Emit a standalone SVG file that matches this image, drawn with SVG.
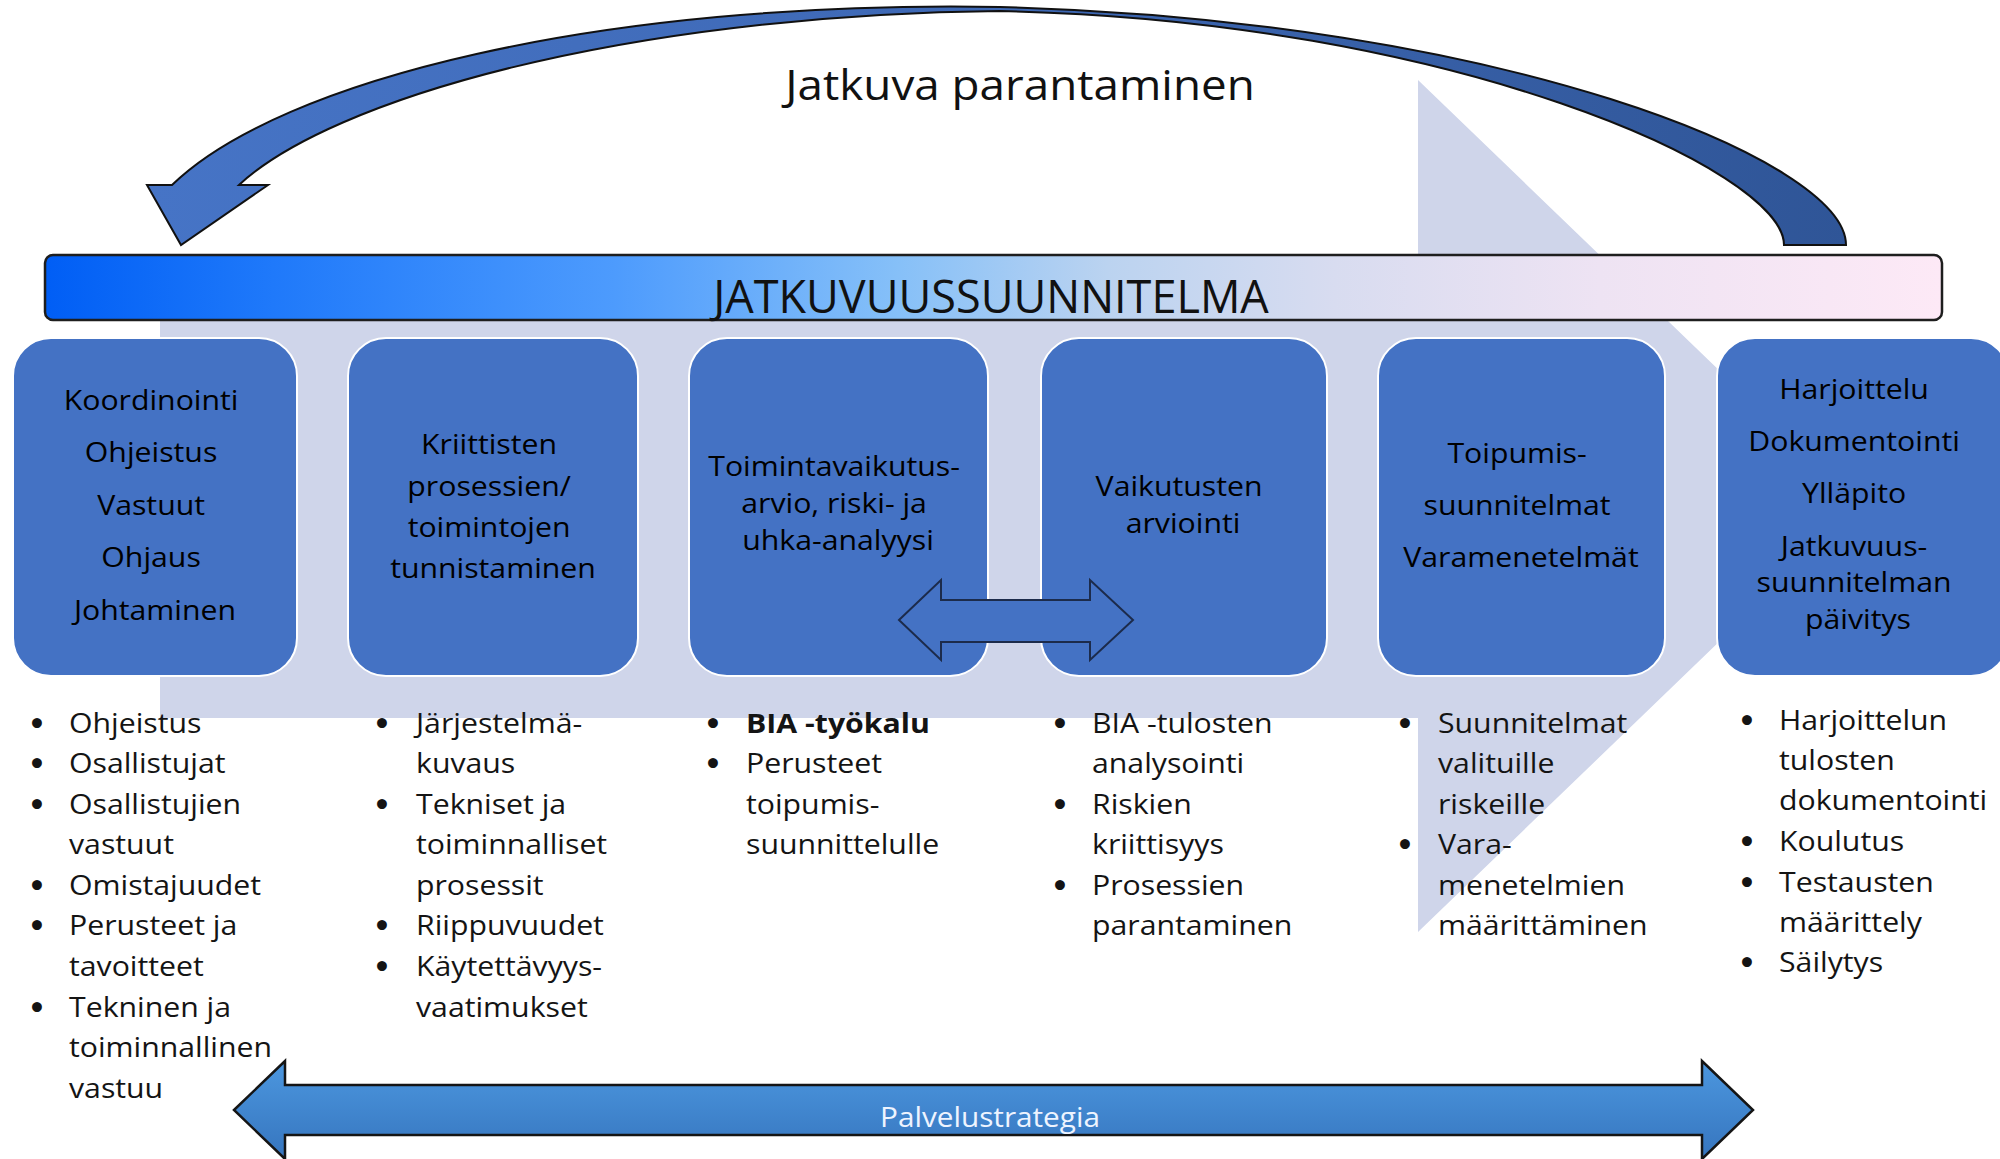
<svg xmlns="http://www.w3.org/2000/svg" width="2000" height="1159" viewBox="0 0 2000 1159">
  <defs>
    <linearGradient id="gBar" x1="0" y1="0" x2="1" y2="0">
      <stop offset="0" stop-color="#005EF5"/>
      <stop offset="0.12" stop-color="#1F79FA"/>
      <stop offset="0.3" stop-color="#4D9BFD"/>
      <stop offset="0.45" stop-color="#86C0F8"/>
      <stop offset="0.56" stop-color="#BBD3F0"/>
      <stop offset="0.68" stop-color="#D8DCF0"/>
      <stop offset="0.82" stop-color="#EEE3F3"/>
      <stop offset="1" stop-color="#FDE9F6"/>
    </linearGradient>
    <linearGradient id="gCurve" x1="150" y1="0" x2="1850" y2="0" gradientUnits="userSpaceOnUse">
      <stop offset="0" stop-color="#4674C6"/>
      <stop offset="0.5" stop-color="#3E68B4"/>
      <stop offset="1" stop-color="#2F5597"/>
    </linearGradient>
    <linearGradient id="gStrat" x1="0" y1="0" x2="0" y2="1">
      <stop offset="0" stop-color="#4C97DF"/>
      <stop offset="1" stop-color="#3675BE"/>
    </linearGradient>
    <style>
      .bg { fill: #CFD5EA; }
      .box { fill: #4472C4; stroke: #FFFFFF; stroke-width: 2; }
      .bt { font-family: "Open Sans", "Noto Sans", sans-serif; font-size: 27.5px; fill: #000000; text-anchor: middle; }
      .lt { font-family: "Open Sans", "Noto Sans", sans-serif; font-size: 27.5px; fill: #141414; }
      .bul { font-family: "DejaVu Sans", sans-serif; font-size: 28px; font-weight: bold; fill: #141414; text-anchor: middle; }
      .dbl { fill: #4472C4; stroke: #1C2B4B; stroke-width: 2; stroke-linejoin: miter; }
    </style>
  </defs>

  <!-- background chevron -->
  <polygon class="bg" points="160,300 1418,300 1418,80 1860,506 1418,932 1418,718 160,718"/>

  <g id="title">
    <text class="bt" transform="translate(1020 0) scale(1.09 1)" x="0" y="100" style="font-size:42px;fill:#111">Jatkuva parantaminen</text>
  </g>

  <g id="plan-bar">
    <rect x="45" y="255" width="1897" height="65" rx="8" fill="url(#gBar)" stroke="#1E1E1E" stroke-width="2.5"/>
    <text class="bt" x="991" y="313" style="font-size:45px;fill:#111">JATKUVUUSSUUNNITELMA</text>
  </g>

  <g id="box1">
    <rect class="box" x="13" y="338" width="284" height="338" rx="38"/>
    <text class="bt" transform="translate(155 0) scale(1.1 1)">
      <tspan x="0" y="410">Koordinointi</tspan>
      <tspan x="0" y="462">Ohjeistus</tspan>
      <tspan x="0" y="515">Vastuut</tspan>
      <tspan x="0" y="567">Ohjaus</tspan>
      <tspan x="0" y="620">Johtaminen</tspan>
    </text>
  </g>

  <g id="box2">
    <rect class="box" x="348" y="338" width="290" height="338" rx="38"/>
    <text class="bt" transform="translate(493 0) scale(1.1 1)">
      <tspan x="0" y="454">Kriittisten</tspan>
      <tspan x="0" y="496">prosessien/</tspan>
      <tspan x="0" y="537">toimintojen</tspan>
      <tspan x="0" y="578">tunnistaminen</tspan>
    </text>
  </g>

  <g id="box3">
    <rect class="box" x="689" y="338" width="299" height="338" rx="38"/>
    <text class="bt" transform="translate(838 0) scale(1.1 1)">
      <tspan x="0" y="476">Toimintavaikutus-</tspan>
      <tspan x="0" y="513">arvio, riski- ja</tspan>
      <tspan x="0" y="550">uhka-analyysi</tspan>
    </text>
  </g>

  <g id="box4">
    <rect class="box" x="1041" y="338" width="286" height="338" rx="38"/>
    <text class="bt" transform="translate(1183 0) scale(1.1 1)">
      <tspan x="0" y="496">Vaikutusten</tspan>
      <tspan x="0" y="533">arviointi</tspan>
    </text>
  </g>

  <g id="box5">
    <rect class="box" x="1378" y="338" width="287" height="338" rx="38"/>
    <text class="bt" transform="translate(1521 0) scale(1.1 1)">
      <tspan x="0" y="463">Toipumis-</tspan>
      <tspan x="0" y="515">suunnitelmat</tspan>
      <tspan x="0" y="567">Varamenetelmät</tspan>
    </text>
  </g>

  <g id="box6">
    <rect class="box" x="1717" y="338" width="292" height="338" rx="38"/>
    <text class="bt" transform="translate(1858 0) scale(1.1 1)">
      <tspan x="0" y="399">Harjoittelu</tspan>
      <tspan x="0" y="451">Dokumentointi</tspan>
      <tspan x="0" y="503">Ylläpito</tspan>
      <tspan x="0" y="556">Jatkuvuus-</tspan>
      <tspan x="0" y="592">suunnitelman</tspan>
      <tspan x="0" y="629">päivitys</tspan>
    </text>
  </g>

  <g id="connectors">
    <!-- Jatkuva parantaminen curved arrow -->
    <path d="M 1846,245 C 1846,160 1500,20 1000,7 C 600,0 280,80 172,185 L 147,185 L 181,245 L 268,185 L 239,185 C 330,100 620,15 1000,11 C 1450,20 1784,170 1784,245 Z" fill="url(#gCurve)" stroke="#111111" stroke-width="2" stroke-linejoin="miter"/>
    <!-- double arrow between analysis boxes -->
    <path class="dbl" d="M 899,620 L 941,580 L 941,600 L 1090,600 L 1090,580 L 1133,620 L 1090,660 L 1090,642 L 941,642 L 941,660 Z"/>
  </g>

  <g id="list1">
    <text class="bul"><tspan x="37" y="734">•</tspan><tspan x="37" y="774">•</tspan><tspan x="37" y="815">•</tspan><tspan x="37" y="896">•</tspan><tspan x="37" y="936">•</tspan><tspan x="37" y="1018">•</tspan></text>
    <text class="lt" transform="translate(69 0) scale(1.1 1)">
      <tspan x="0" y="733">Ohjeistus</tspan>
      <tspan x="0" y="773">Osallistujat</tspan>
      <tspan x="0" y="814">Osallistujien</tspan>
      <tspan x="0" y="854">vastuut</tspan>
      <tspan x="0" y="895">Omistajuudet</tspan>
      <tspan x="0" y="935">Perusteet ja</tspan>
      <tspan x="0" y="976">tavoitteet</tspan>
      <tspan x="0" y="1017">Tekninen ja</tspan>
      <tspan x="0" y="1057">toiminnallinen</tspan>
      <tspan x="0" y="1098">vastuu</tspan>
    </text>
  </g>

  <g id="list2">
    <text class="bul"><tspan x="382" y="734">•</tspan><tspan x="382" y="815">•</tspan><tspan x="382" y="936">•</tspan><tspan x="382" y="977">•</tspan></text>
    <text class="lt" transform="translate(416 0) scale(1.1 1)">
      <tspan x="0" y="733">Järjestelmä-</tspan>
      <tspan x="0" y="773">kuvaus</tspan>
      <tspan x="0" y="814">Tekniset ja</tspan>
      <tspan x="0" y="854">toiminnalliset</tspan>
      <tspan x="0" y="895">prosessit</tspan>
      <tspan x="0" y="935">Riippuvuudet</tspan>
      <tspan x="0" y="976">Käytettävyys-</tspan>
      <tspan x="0" y="1017">vaatimukset</tspan>
    </text>
  </g>

  <g id="list3">
    <text class="bul"><tspan x="713" y="734">•</tspan><tspan x="713" y="774">•</tspan></text>
    <text class="lt" transform="translate(746 0) scale(1.1 1)">
      <tspan x="0" y="733" font-weight="bold">BIA -työkalu</tspan>
      <tspan x="0" y="773">Perusteet</tspan>
      <tspan x="0" y="814">toipumis-</tspan>
      <tspan x="0" y="854">suunnittelulle</tspan>
    </text>
  </g>

  <g id="list4">
    <text class="bul"><tspan x="1060" y="734">•</tspan><tspan x="1060" y="815">•</tspan><tspan x="1060" y="896">•</tspan></text>
    <text class="lt" transform="translate(1092 0) scale(1.1 1)">
      <tspan x="0" y="733">BIA -tulosten</tspan>
      <tspan x="0" y="773">analysointi</tspan>
      <tspan x="0" y="814">Riskien</tspan>
      <tspan x="0" y="854">kriittisyys</tspan>
      <tspan x="0" y="895">Prosessien</tspan>
      <tspan x="0" y="935">parantaminen</tspan>
    </text>
  </g>

  <g id="list5">
    <text class="bul"><tspan x="1405" y="734">•</tspan><tspan x="1405" y="855">•</tspan></text>
    <text class="lt" transform="translate(1438 0) scale(1.1 1)">
      <tspan x="0" y="733">Suunnitelmat</tspan>
      <tspan x="0" y="773">valituille</tspan>
      <tspan x="0" y="814">riskeille</tspan>
      <tspan x="0" y="854">Vara-</tspan>
      <tspan x="0" y="895">menetelmien</tspan>
      <tspan x="0" y="935">määrittäminen</tspan>
    </text>
  </g>

  <g id="list6">
    <text class="bul"><tspan x="1747" y="731">•</tspan><tspan x="1747" y="852">•</tspan><tspan x="1747" y="893">•</tspan><tspan x="1747" y="973">•</tspan></text>
    <text class="lt" transform="translate(1779 0) scale(1.1 1)">
      <tspan x="0" y="730">Harjoittelun</tspan>
      <tspan x="0" y="770">tulosten</tspan>
      <tspan x="0" y="810">dokumentointi</tspan>
      <tspan x="0" y="851">Koulutus</tspan>
      <tspan x="0" y="892">Testausten</tspan>
      <tspan x="0" y="932">määrittely</tspan>
      <tspan x="0" y="972">Säilytys</tspan>
    </text>
  </g>

  <g id="strategy">
    <path d="M 234,1110 L 285,1061 L 285,1085 L 1702,1085 L 1702,1061 L 1753,1110 L 1702,1159 L 1702,1135 L 285,1135 L 285,1159 Z" fill="url(#gStrat)" stroke="#151515" stroke-width="2.5" stroke-linejoin="miter"/>
    <text class="bt" transform="translate(990 0) scale(1.1 1)" x="0" y="1127" style="font-size:27px;fill:#EEF4FF">Palvelustrategia</text>
  </g>
</svg>
